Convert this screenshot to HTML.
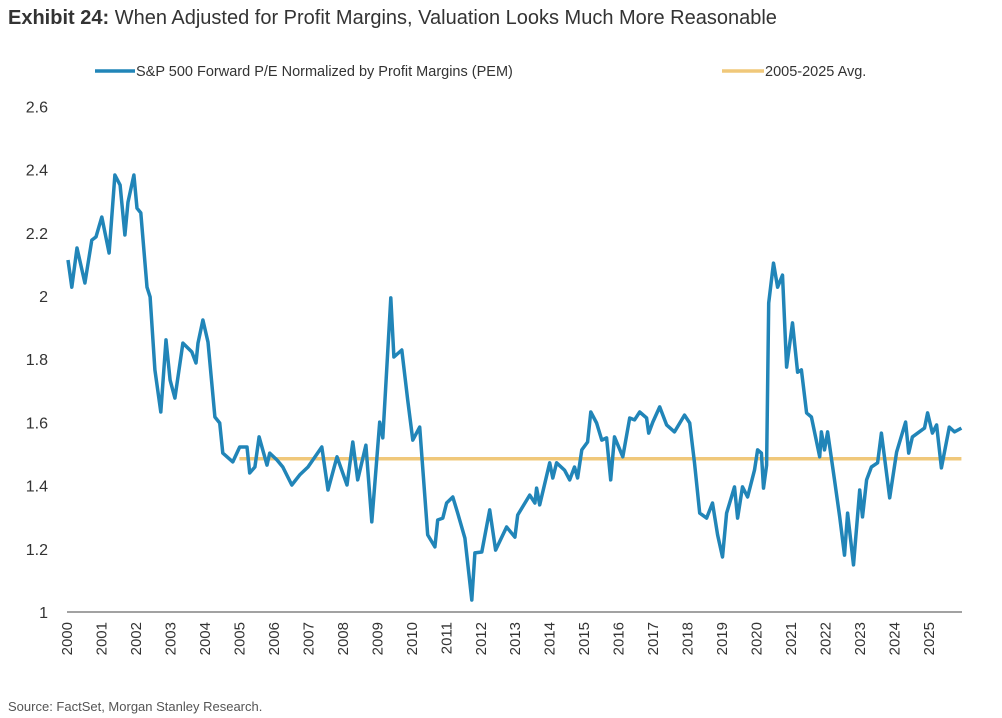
<!DOCTYPE html>
<html><head><meta charset="utf-8">
<style>
body{margin:0;background:#fff;width:1002px;height:718px;overflow:hidden;font-family:"Liberation Sans",sans-serif;}
svg{display:block}
</style></head>
<body>
<svg id="chart" width="1002" height="718">
<text x="8" y="24" font-size="20" fill="#333"><tspan font-weight="bold">Exhibit 24:</tspan><tspan>  When Adjusted for Profit Margins, Valuation Looks Much More Reasonable</tspan></text>
<g>
<line x1="95" y1="71" x2="135" y2="71" stroke="#2185b8" stroke-width="3.5"/>
<text x="136" y="76" font-size="14.5" fill="#333">S&amp;P 500 Forward P/E Normalized by Profit Margins (PEM)</text>
<line x1="722" y1="71" x2="764" y2="71" stroke="#f0c87a" stroke-width="3.5"/>
<text x="765" y="76" font-size="14.5" fill="#333">2005-2025 Avg.</text>
</g>
<g id="yaxis"></g>
<g id="xaxis"></g>
<g id="series"></g>
<text x="8" y="711" font-size="13" fill="#555">Source: FactSet, Morgan Stanley Research.</text>
</svg>
<script>
const yTicks=[1,1.2,1.4,1.6,1.8,2,2.2,2.4,2.6];
const yTickLabels=["1","1.2","1.4","1.6","1.8","2","2.2","2.4","2.6"];
const xTickYears=[2000,2001,2002,2003,2004,2005,2006,2007,2008,2009,2010,2011,2012,2013,2014,2015,2016,2017,2018,2019,2020,2021,2022,2023,2024,2025];
const pemYears=[2000.03,2000.14,2000.29,2000.52,2000.72,2000.84,2001.01,2001.22,2001.39,2001.54,2001.68,2001.77,2001.94,2002.03,2002.14,2002.32,2002.41,2002.55,2002.72,2002.87,2002.99,2003.13,2003.36,2003.62,2003.74,2003.80,2003.94,2004.09,2004.29,2004.43,2004.52,2004.81,2005.01,2005.22,2005.30,2005.45,2005.57,2005.80,2005.88,2006.09,2006.26,2006.52,2006.75,2006.99,2007.39,2007.57,2007.83,2008.12,2008.29,2008.43,2008.67,2008.84,2009.07,2009.16,2009.39,2009.48,2009.71,2009.88,2010.03,2010.23,2010.46,2010.67,2010.75,2010.90,2011.01,2011.19,2011.33,2011.54,2011.74,2011.83,2012.03,2012.26,2012.43,2012.75,2012.99,2013.07,2013.42,2013.57,2013.62,2013.71,2014.00,2014.09,2014.20,2014.43,2014.58,2014.72,2014.81,2014.93,2015.10,2015.19,2015.36,2015.51,2015.65,2015.77,2015.88,2016.12,2016.32,2016.46,2016.61,2016.81,2016.87,2016.99,2017.19,2017.39,2017.62,2017.91,2018.06,2018.20,2018.35,2018.55,2018.72,2018.87,2019.01,2019.13,2019.36,2019.45,2019.59,2019.74,2019.94,2020.03,2020.14,2020.20,2020.29,2020.35,2020.49,2020.61,2020.75,2020.87,2021.04,2021.19,2021.30,2021.45,2021.59,2021.83,2021.88,2021.97,2022.06,2022.26,2022.41,2022.55,2022.64,2022.81,2022.99,2023.07,2023.19,2023.33,2023.51,2023.62,2023.86,2024.06,2024.32,2024.41,2024.52,2024.87,2024.96,2025.10,2025.22,2025.36,2025.59,2025.74,2025.94];
const pemValues=[2.114,2.028,2.152,2.041,2.177,2.187,2.25,2.136,2.383,2.351,2.193,2.297,2.383,2.278,2.263,2.028,1.997,1.766,1.633,1.861,1.734,1.677,1.851,1.823,1.788,1.851,1.924,1.854,1.617,1.598,1.503,1.475,1.522,1.522,1.44,1.459,1.554,1.465,1.503,1.481,1.459,1.402,1.434,1.459,1.522,1.386,1.491,1.402,1.538,1.418,1.528,1.285,1.601,1.551,1.994,1.807,1.829,1.671,1.544,1.585,1.244,1.206,1.291,1.297,1.345,1.364,1.313,1.234,1.038,1.187,1.19,1.323,1.196,1.269,1.237,1.307,1.37,1.345,1.392,1.339,1.472,1.424,1.472,1.449,1.418,1.459,1.424,1.513,1.538,1.633,1.598,1.544,1.551,1.418,1.554,1.491,1.614,1.608,1.633,1.614,1.566,1.601,1.649,1.592,1.57,1.623,1.598,1.472,1.313,1.297,1.345,1.244,1.174,1.313,1.396,1.297,1.396,1.364,1.449,1.513,1.503,1.392,1.465,1.978,2.104,2.028,2.066,1.775,1.915,1.759,1.766,1.63,1.617,1.491,1.57,1.513,1.57,1.418,1.301,1.18,1.313,1.149,1.386,1.301,1.418,1.459,1.472,1.566,1.361,1.506,1.601,1.503,1.554,1.582,1.63,1.566,1.592,1.456,1.585,1.57,1.582];
const avgValue=1.485;
const avgStart=2005.0, avgEnd=2025.94;

const NS="http://www.w3.org/2000/svg";
function xScale(yr){return 67+(yr-2000)*34.48;}
function yScale(v){return 612-(v-1)*316;}
function mk(tag,attrs,parent){const e=document.createElementNS(NS,tag);for(const k in attrs)e.setAttribute(k,attrs[k]);parent.appendChild(e);return e;}
const yax=document.getElementById('yaxis'),xax=document.getElementById('xaxis'),ser=document.getElementById('series');
yTicks.forEach((t,i)=>{
  const el=mk('text',{x:48,y:yScale(t)+6,'font-size':16,fill:'#333','text-anchor':'end'},yax);
  
  
  el.textContent=yTickLabels[i];
});
const axl=mk('line',{x1:67,y1:612,x2:962,y2:612,stroke:'#444','stroke-width':1},xax);


xTickYears.forEach(yr=>{
  const x=xScale(yr);
  const el=mk('text',{x:0,y:0,'font-size':15,fill:'#333','text-anchor':'end',transform:`translate(${x+5},622) rotate(-90)`},xax);
  
  
  el.textContent=yr;
});
const avg=mk('line',{x1:xScale(avgStart),y1:yScale(avgValue),x2:xScale(avgEnd),y2:yScale(avgValue),stroke:'#f0c87a','stroke-width':3.5},ser);


const pts=pemYears.map((y,i)=>xScale(y).toFixed(1)+','+yScale(pemValues[i]).toFixed(1)).join(' ');
const pl=mk('polyline',{points:pts,fill:'none',stroke:'#2185b8','stroke-width':3.5,'stroke-linejoin':'round'},ser);


</script>
</body></html>
